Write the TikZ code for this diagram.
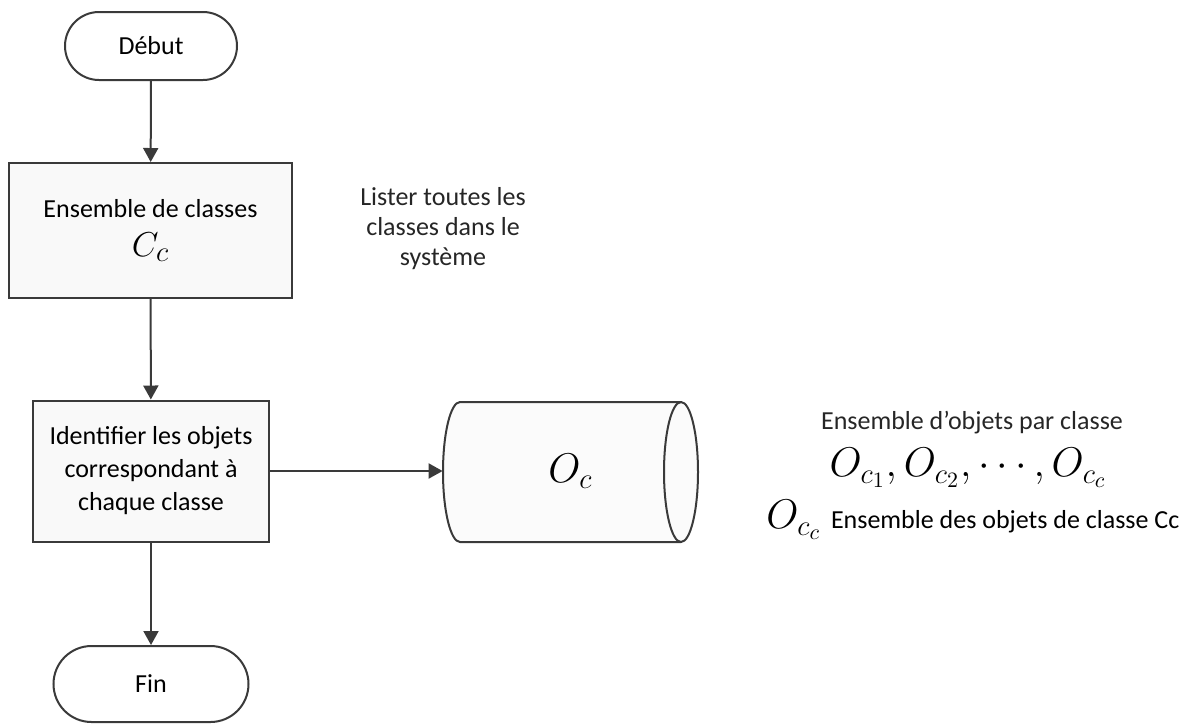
\documentclass[tikz,border=0pt]{standalone}
\usepackage{fontspec}
\setmainfont{Carlito}
\usetikzlibrary{arrows.meta}
\definecolor{ln}{HTML}{3A3A3A}
\tikzset{
  pill/.style={draw=ln, line width=1pt, rounded corners=17pt, fill=white, align=center, font=\fontsize{13}{16}\selectfont},
  procbox/.style={draw=ln, line width=1pt, fill=gray!5, align=center, font=\fontsize{13}{16.5}\selectfont},
  lbl/.style={align=center, font=\fontsize{13}{15}\selectfont, text=black!85},
  flow/.style={draw=ln, line width=1pt, -{Triangle[length=7pt,width=7.5pt]}},
  cyl/.style={draw=ln, line width=1pt},
}
\begin{document}
\begin{tikzpicture}[x=0.5pt,y=-0.5pt]
\useasboundingbox (0,0) rectangle (1189,724);
% nodes
\node[pill, minimum width=86pt, minimum height=34pt] (debut) at (151,46) {Début};
\node[procbox, minimum width=141.5pt, minimum height=67.5pt] (ens) at (150.5,230.5)
  {Ensemble de classes\\[3pt]{\fontsize{19}{19}\selectfont$C_{c}$}};
\node[procbox, minimum width=118pt, minimum height=70.5pt] (ident) at (151,471)
  {Identifier les objets\\correspondant à\\chaque classe};
\node[pill, minimum width=97.5pt, minimum height=38pt, rounded corners=19pt] (fin) at (151,684) {Fin};
% cylinder
\draw[cyl, fill=gray!3] (460,402) -- (681,402) arc[start angle=-90, end angle=90, x radius=17, y radius=70] -- (460,542)
  arc[start angle=90, end angle=270, x radius=17, y radius=70] -- cycle;
\draw[cyl] (681,402) arc[start angle=-90, end angle=-270, x radius=17, y radius=70];
\node[minimum width=127.5pt, minimum height=70pt, inner sep=0pt] (store) at (570.5,471)
  {\fontsize{21}{21}\selectfont$O_{c}$};
% label
\node[lbl] (lister) at (443,229) {Lister toutes les\\classes dans le\\système};
% right annotations
\node[lbl] (ensobj) at (972,423) {Ensemble d'objets par classe};
\node (formula) at (968,468) {\fontsize{22}{22}\selectfont$O_{c_1},O_{c_2},\cdots,O_{c_c}$};
\node[anchor=west, inner sep=0pt] (desc) at (766,520)
  {\fontsize{22}{22}\selectfont$O_{c_c}$\ \fontsize{13}{15}\selectfont Ensemble des objets de classe Cc};
% connectors
\draw[flow] (debut) -- (ens);
\draw[flow] (ens) -- (ident);
\draw[flow] (ident) -- (fin);
\draw[flow] (ident.east) -- (store.west);
\end{tikzpicture}
\end{document}
